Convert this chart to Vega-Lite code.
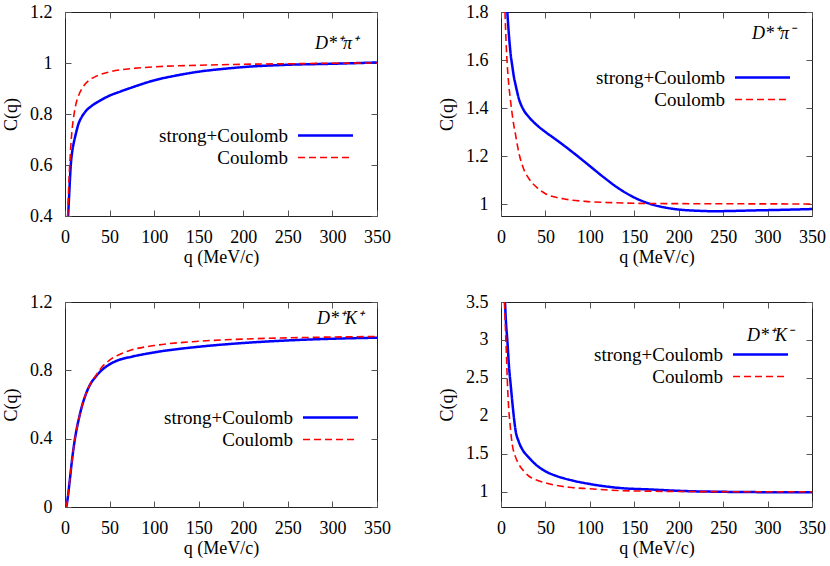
{
  "$schema": "https://vega.github.io/schema/vega-lite/v6.json",
  "background": "white",
  "padding": {"left": 2, "top": 2, "right": 5, "bottom": 2},
  "config": {
    "font": "Liberation Serif",
    "view": {"stroke": "#222", "strokeWidth": 1},
    "axis": {"grid": false, "domain": false, "tickSize": -6, "tickColor": "#555", "tickWidth": 1, "labelFontSize": 18, "titleFontSize": 18, "labelColor": "black", "titleColor": "black", "titleFontWeight": "normal", "labelFlush": false, "labelOverlap": false, "labelFont": "Liberation Serif", "titleFont": "Liberation Serif"},
    "axisX": {"labelPadding": 18, "titlePadding": 2},
    "axisY": {"labelPadding": 19, "titlePadding": 9},
    "legend": {"symbolType": "M-5,0H5", "symbolSize": 121, "symbolOffset": 22, "labelAlign": "right", "labelOffset": -47, "labelFontSize": 19, "labelFont": "Liberation Serif", "labelColor": "black", "titleFontSize": 18, "titleFont": "Liberation Serif", "titleFontStyle": "italic", "titleFontWeight": "normal", "titleColor": "black", "titleAnchor": "end", "rowPadding": 2, "padding": 0, "labelLimit": 300}
  },
  "data": {"values": [
    {"p":"a","s":"strong+Coulomb","q":3.5,"C":0.40},{"p":"a","s":"strong+Coulomb","q":4.5,"C":0.47},{"p":"a","s":"strong+Coulomb","q":5.5,"C":0.54},{"p":"a","s":"strong+Coulomb","q":6.5,"C":0.60},{"p":"a","s":"strong+Coulomb","q":8,"C":0.65},{"p":"a","s":"strong+Coulomb","q":10,"C":0.69},{"p":"a","s":"strong+Coulomb","q":12,"C":0.72},{"p":"a","s":"strong+Coulomb","q":15,"C":0.76},{"p":"a","s":"strong+Coulomb","q":19,"C":0.79},{"p":"a","s":"strong+Coulomb","q":23,"C":0.81},{"p":"a","s":"strong+Coulomb","q":30,"C":0.832},{"p":"a","s":"strong+Coulomb","q":38,"C":0.85},{"p":"a","s":"strong+Coulomb","q":50,"C":0.872},{"p":"a","s":"strong+Coulomb","q":62,"C":0.888},{"p":"a","s":"strong+Coulomb","q":75,"C":0.904},{"p":"a","s":"strong+Coulomb","q":100,"C":0.932},{"p":"a","s":"strong+Coulomb","q":125,"C":0.951},{"p":"a","s":"strong+Coulomb","q":150,"C":0.966},{"p":"a","s":"strong+Coulomb","q":175,"C":0.976},{"p":"a","s":"strong+Coulomb","q":200,"C":0.984},{"p":"a","s":"strong+Coulomb","q":250,"C":0.993},{"p":"a","s":"strong+Coulomb","q":300,"C":0.997},{"p":"a","s":"strong+Coulomb","q":350,"C":1.002},
    {"p":"a","s":"Coulomb","q":3,"C":0.40},{"p":"a","s":"Coulomb","q":4,"C":0.50},{"p":"a","s":"Coulomb","q":5,"C":0.58},{"p":"a","s":"Coulomb","q":6,"C":0.645},{"p":"a","s":"Coulomb","q":7,"C":0.70},{"p":"a","s":"Coulomb","q":8,"C":0.74},{"p":"a","s":"Coulomb","q":10,"C":0.795},{"p":"a","s":"Coulomb","q":12,"C":0.835},{"p":"a","s":"Coulomb","q":15,"C":0.87},{"p":"a","s":"Coulomb","q":20,"C":0.905},{"p":"a","s":"Coulomb","q":27,"C":0.932},{"p":"a","s":"Coulomb","q":35,"C":0.948},{"p":"a","s":"Coulomb","q":50,"C":0.965},{"p":"a","s":"Coulomb","q":75,"C":0.978},{"p":"a","s":"Coulomb","q":100,"C":0.985},{"p":"a","s":"Coulomb","q":150,"C":0.991},{"p":"a","s":"Coulomb","q":200,"C":0.995},{"p":"a","s":"Coulomb","q":250,"C":0.997},{"p":"a","s":"Coulomb","q":300,"C":0.999},{"p":"a","s":"Coulomb","q":350,"C":1.0},
    {"p":"b","s":"strong+Coulomb","q":7.1,"C":1.8},{"p":"b","s":"strong+Coulomb","q":9,"C":1.70},{"p":"b","s":"strong+Coulomb","q":11,"C":1.62},{"p":"b","s":"strong+Coulomb","q":12.7,"C":1.575},{"p":"b","s":"strong+Coulomb","q":14.5,"C":1.53},{"p":"b","s":"strong+Coulomb","q":16.5,"C":1.495},{"p":"b","s":"strong+Coulomb","q":20,"C":1.44},{"p":"b","s":"strong+Coulomb","q":25,"C":1.395},{"p":"b","s":"strong+Coulomb","q":31.5,"C":1.362},{"p":"b","s":"strong+Coulomb","q":40,"C":1.33},{"p":"b","s":"strong+Coulomb","q":50,"C":1.30},{"p":"b","s":"strong+Coulomb","q":62,"C":1.268},{"p":"b","s":"strong+Coulomb","q":76,"C":1.229},{"p":"b","s":"strong+Coulomb","q":88,"C":1.194},{"p":"b","s":"strong+Coulomb","q":100,"C":1.158},{"p":"b","s":"strong+Coulomb","q":115,"C":1.113},{"p":"b","s":"strong+Coulomb","q":132,"C":1.066},{"p":"b","s":"strong+Coulomb","q":150,"C":1.027},{"p":"b","s":"strong+Coulomb","q":170,"C":0.998},{"p":"b","s":"strong+Coulomb","q":185,"C":0.985},{"p":"b","s":"strong+Coulomb","q":200,"C":0.977},{"p":"b","s":"strong+Coulomb","q":220,"C":0.972},{"p":"b","s":"strong+Coulomb","q":240,"C":0.970},{"p":"b","s":"strong+Coulomb","q":260,"C":0.971},{"p":"b","s":"strong+Coulomb","q":282,"C":0.973},{"p":"b","s":"strong+Coulomb","q":320,"C":0.976},{"p":"b","s":"strong+Coulomb","q":350,"C":0.979},
    {"p":"b","s":"Coulomb","q":4.5,"C":1.8},{"p":"b","s":"Coulomb","q":6,"C":1.65},{"p":"b","s":"Coulomb","q":8,"C":1.53},{"p":"b","s":"Coulomb","q":10.9,"C":1.425},{"p":"b","s":"Coulomb","q":13.5,"C":1.35},{"p":"b","s":"Coulomb","q":16.5,"C":1.286},{"p":"b","s":"Coulomb","q":20,"C":1.215},{"p":"b","s":"Coulomb","q":24,"C":1.161},{"p":"b","s":"Coulomb","q":31.5,"C":1.105},{"p":"b","s":"Coulomb","q":40,"C":1.07},{"p":"b","s":"Coulomb","q":50,"C":1.043},{"p":"b","s":"Coulomb","q":70,"C":1.022},{"p":"b","s":"Coulomb","q":95,"C":1.011},{"p":"b","s":"Coulomb","q":130,"C":1.005},{"p":"b","s":"Coulomb","q":170,"C":1.002},{"p":"b","s":"Coulomb","q":250,"C":1.001},{"p":"b","s":"Coulomb","q":350,"C":1.0},
    {"p":"c","s":"strong+Coulomb","q":1.5,"C":0},{"p":"c","s":"strong+Coulomb","q":3,"C":0.05},{"p":"c","s":"strong+Coulomb","q":5,"C":0.14},{"p":"c","s":"strong+Coulomb","q":8,"C":0.28},{"p":"c","s":"strong+Coulomb","q":10,"C":0.36},{"p":"c","s":"strong+Coulomb","q":12.5,"C":0.44},{"p":"c","s":"strong+Coulomb","q":15.7,"C":0.52},{"p":"c","s":"strong+Coulomb","q":19,"C":0.59},{"p":"c","s":"strong+Coulomb","q":23,"C":0.655},{"p":"c","s":"strong+Coulomb","q":28,"C":0.715},{"p":"c","s":"strong+Coulomb","q":34,"C":0.76},{"p":"c","s":"strong+Coulomb","q":40,"C":0.795},{"p":"c","s":"strong+Coulomb","q":50,"C":0.835},{"p":"c","s":"strong+Coulomb","q":60,"C":0.86},{"p":"c","s":"strong+Coulomb","q":75,"C":0.88},{"p":"c","s":"strong+Coulomb","q":100,"C":0.905},{"p":"c","s":"strong+Coulomb","q":150,"C":0.938},{"p":"c","s":"strong+Coulomb","q":200,"C":0.96},{"p":"c","s":"strong+Coulomb","q":250,"C":0.975},{"p":"c","s":"strong+Coulomb","q":300,"C":0.985},{"p":"c","s":"strong+Coulomb","q":350,"C":0.991},
    {"p":"c","s":"Coulomb","q":1.5,"C":0},{"p":"c","s":"Coulomb","q":3,"C":0.05},{"p":"c","s":"Coulomb","q":5,"C":0.14},{"p":"c","s":"Coulomb","q":8,"C":0.28},{"p":"c","s":"Coulomb","q":10,"C":0.36},{"p":"c","s":"Coulomb","q":12.5,"C":0.44},{"p":"c","s":"Coulomb","q":15.7,"C":0.52},{"p":"c","s":"Coulomb","q":19,"C":0.59},{"p":"c","s":"Coulomb","q":23,"C":0.655},{"p":"c","s":"Coulomb","q":28,"C":0.717},{"p":"c","s":"Coulomb","q":34,"C":0.765},{"p":"c","s":"Coulomb","q":40,"C":0.81},{"p":"c","s":"Coulomb","q":50,"C":0.86},{"p":"c","s":"Coulomb","q":60,"C":0.89},{"p":"c","s":"Coulomb","q":75,"C":0.92},{"p":"c","s":"Coulomb","q":100,"C":0.945},{"p":"c","s":"Coulomb","q":150,"C":0.97},{"p":"c","s":"Coulomb","q":200,"C":0.983},{"p":"c","s":"Coulomb","q":250,"C":0.99},{"p":"c","s":"Coulomb","q":300,"C":0.995},{"p":"c","s":"Coulomb","q":350,"C":0.998},
    {"p":"d","s":"strong+Coulomb","q":4.5,"C":3.5},{"p":"d","s":"strong+Coulomb","q":5.5,"C":3.25},{"p":"d","s":"strong+Coulomb","q":7.1,"C":3.0},{"p":"d","s":"strong+Coulomb","q":9,"C":2.65},{"p":"d","s":"strong+Coulomb","q":10.9,"C":2.41},{"p":"d","s":"strong+Coulomb","q":13,"C":2.15},{"p":"d","s":"strong+Coulomb","q":16.5,"C":1.80},{"p":"d","s":"strong+Coulomb","q":20,"C":1.66},{"p":"d","s":"strong+Coulomb","q":25,"C":1.54},{"p":"d","s":"strong+Coulomb","q":31.5,"C":1.45},{"p":"d","s":"strong+Coulomb","q":40,"C":1.35},{"p":"d","s":"strong+Coulomb","q":50,"C":1.27},{"p":"d","s":"strong+Coulomb","q":62,"C":1.21},{"p":"d","s":"strong+Coulomb","q":76.5,"C":1.16},{"p":"d","s":"strong+Coulomb","q":99,"C":1.105},{"p":"d","s":"strong+Coulomb","q":132,"C":1.052},{"p":"d","s":"strong+Coulomb","q":170,"C":1.03},{"p":"d","s":"strong+Coulomb","q":207,"C":1.01},{"p":"d","s":"strong+Coulomb","q":250,"C":1.0},{"p":"d","s":"strong+Coulomb","q":300,"C":0.995},{"p":"d","s":"strong+Coulomb","q":350,"C":0.993},
    {"p":"d","s":"Coulomb","q":4,"C":3.5},{"p":"d","s":"Coulomb","q":5,"C":3.15},{"p":"d","s":"Coulomb","q":6,"C":2.84},{"p":"d","s":"Coulomb","q":7,"C":2.5},{"p":"d","s":"Coulomb","q":8.2,"C":2.19},{"p":"d","s":"Coulomb","q":10.5,"C":1.85},{"p":"d","s":"Coulomb","q":12.7,"C":1.62},{"p":"d","s":"Coulomb","q":16,"C":1.47},{"p":"d","s":"Coulomb","q":20.2,"C":1.36},{"p":"d","s":"Coulomb","q":25,"C":1.28},{"p":"d","s":"Coulomb","q":31.5,"C":1.205},{"p":"d","s":"Coulomb","q":40,"C":1.155},{"p":"d","s":"Coulomb","q":50.3,"C":1.118},{"p":"d","s":"Coulomb","q":62,"C":1.085},{"p":"d","s":"Coulomb","q":76.5,"C":1.06},{"p":"d","s":"Coulomb","q":99,"C":1.04},{"p":"d","s":"Coulomb","q":132,"C":1.017},{"p":"d","s":"Coulomb","q":170,"C":1.008},{"p":"d","s":"Coulomb","q":250,"C":1.002},{"p":"d","s":"Coulomb","q":350,"C":1.0}
  ]},
  "columns": 2,
  "spacing": {"row": 86, "column": 124},
  "bounds": "flush",
  "resolve": {"scale": {"color": "independent", "strokeDash": "independent", "strokeWidth": "independent"}},
  "concat": [
    {
      "width": 312, "height": 204,
      "transform": [{"filter": "datum.p == 'a'"}],
      "layer": [
        {"mark": {"type": "line", "clip": true, "interpolate": "monotone"},
         "encoding": {
           "x": {"field": "q", "type": "quantitative", "scale": {"domain": [0, 350], "nice": false, "zero": false}, "axis": {"values": [0,50,100,150,200,250,300,350], "format": "d", "title": "q (MeV/c)"}},
           "y": {"field": "C", "type": "quantitative", "scale": {"domain": [0.4, 1.2], "nice": false, "zero": false}, "axis": {"values": [0.4,0.6,0.8,1,1.2], "format": "~g", "title": "C(q)"}},
           "color": {"field": "s", "type": "nominal", "scale": {"domain": ["strong+Coulomb","Coulomb"], "range": ["#0000ff","#ff0000"]}, "legend": {"title": "D*⁺π⁺", "orient": "none", "legendX": 229, "legendY": 23, "titlePadding": 73}},
           "strokeDash": {"field": "s", "type": "nominal", "scale": {"domain": ["strong+Coulomb","Coulomb"], "range": [[1,0],[7,4]]}, "legend": {"title": "D*⁺π⁺", "orient": "none", "legendX": 229, "legendY": 23, "titlePadding": 73}},
           "strokeWidth": {"field": "s", "type": "nominal", "scale": {"domain": ["strong+Coulomb","Coulomb"], "range": [2.5,1.6]}, "legend": {"title": "D*⁺π⁺", "orient": "none", "legendX": 229, "legendY": 23, "titlePadding": 73}}
         }},
        {"mark": {"type": "point", "opacity": 0},
         "encoding": {
           "x": {"field": "q", "type": "quantitative", "scale": {"domain": [0, 350], "nice": false, "zero": false}, "axis": {"orient": "top", "values": [0,50,100,150,200,250,300,350], "labels": false, "title": null}},
           "y": {"field": "C", "type": "quantitative", "scale": {"domain": [0.4, 1.2], "nice": false, "zero": false}, "axis": {"orient": "right", "values": [0.4,0.6,0.8,1,1.2], "labels": false, "title": null}}
         }}
      ],
      "resolve": {"axis": {"x": "independent", "y": "independent"}}
    },
    {
      "width": 311, "height": 204,
      "transform": [{"filter": "datum.p == 'b'"}],
      "layer": [
        {"mark": {"type": "line", "clip": true, "interpolate": "monotone"},
         "encoding": {
           "x": {"field": "q", "type": "quantitative", "scale": {"domain": [0, 350], "nice": false, "zero": false}, "axis": {"values": [0,50,100,150,200,250,300,350], "format": "d", "title": "q (MeV/c)"}},
           "y": {"field": "C", "type": "quantitative", "scale": {"domain": [0.95, 1.8], "nice": false, "zero": false}, "axis": {"values": [1,1.2,1.4,1.6,1.8], "format": "~g", "title": "C(q)"}},
           "color": {"field": "s", "type": "nominal", "scale": {"domain": ["strong+Coulomb","Coulomb"], "range": ["#0000ff","#ff0000"]}, "legend": {"title": "D*⁺π⁻", "orient": "none", "legendX": 230, "legendY": 13, "titlePadding": 25}},
           "strokeDash": {"field": "s", "type": "nominal", "scale": {"domain": ["strong+Coulomb","Coulomb"], "range": [[1,0],[7,4]]}, "legend": {"title": "D*⁺π⁻", "orient": "none", "legendX": 230, "legendY": 13, "titlePadding": 25}},
           "strokeWidth": {"field": "s", "type": "nominal", "scale": {"domain": ["strong+Coulomb","Coulomb"], "range": [2.5,1.6]}, "legend": {"title": "D*⁺π⁻", "orient": "none", "legendX": 230, "legendY": 13, "titlePadding": 25}}
         }},
        {"mark": {"type": "point", "opacity": 0},
         "encoding": {
           "x": {"field": "q", "type": "quantitative", "scale": {"domain": [0, 350], "nice": false, "zero": false}, "axis": {"orient": "top", "values": [0,50,100,150,200,250,300,350], "labels": false, "title": null}},
           "y": {"field": "C", "type": "quantitative", "scale": {"domain": [0.95, 1.8], "nice": false, "zero": false}, "axis": {"orient": "right", "values": [1,1.2,1.4,1.6,1.8], "labels": false, "title": null}}
         }}
      ],
      "resolve": {"axis": {"x": "independent", "y": "independent"}}
    },
    {
      "width": 312, "height": 205,
      "transform": [{"filter": "datum.p == 'c'"}],
      "layer": [
        {"mark": {"type": "line", "clip": true, "interpolate": "monotone"},
         "encoding": {
           "x": {"field": "q", "type": "quantitative", "scale": {"domain": [0, 350], "nice": false, "zero": false}, "axis": {"values": [0,50,100,150,200,250,300,350], "format": "d", "title": "q (MeV/c)"}},
           "y": {"field": "C", "type": "quantitative", "scale": {"domain": [0, 1.2], "nice": false, "zero": false}, "axis": {"values": [0,0.4,0.8,1.2], "format": "~g", "title": "C(q)"}},
           "color": {"field": "s", "type": "nominal", "scale": {"domain": ["strong+Coulomb","Coulomb"], "range": ["#0000ff","#ff0000"]}, "legend": {"title": "D*⁺K⁺", "orient": "none", "legendX": 234, "legendY": 8, "titlePadding": 80}},
           "strokeDash": {"field": "s", "type": "nominal", "scale": {"domain": ["strong+Coulomb","Coulomb"], "range": [[1,0],[7,4]]}, "legend": {"title": "D*⁺K⁺", "orient": "none", "legendX": 234, "legendY": 8, "titlePadding": 80}},
           "strokeWidth": {"field": "s", "type": "nominal", "scale": {"domain": ["strong+Coulomb","Coulomb"], "range": [2.5,1.6]}, "legend": {"title": "D*⁺K⁺", "orient": "none", "legendX": 234, "legendY": 8, "titlePadding": 80}}
         }},
        {"mark": {"type": "point", "opacity": 0},
         "encoding": {
           "x": {"field": "q", "type": "quantitative", "scale": {"domain": [0, 350], "nice": false, "zero": false}, "axis": {"orient": "top", "values": [0,50,100,150,200,250,300,350], "labels": false, "title": null}},
           "y": {"field": "C", "type": "quantitative", "scale": {"domain": [0, 1.2], "nice": false, "zero": false}, "axis": {"orient": "right", "values": [0,0.4,0.8,1.2], "labels": false, "title": null}}
         }}
      ],
      "resolve": {"axis": {"x": "independent", "y": "independent"}}
    },
    {
      "width": 311, "height": 205,
      "transform": [{"filter": "datum.p == 'd'"}],
      "layer": [
        {"mark": {"type": "line", "clip": true, "interpolate": "monotone"},
         "encoding": {
           "x": {"field": "q", "type": "quantitative", "scale": {"domain": [0, 350], "nice": false, "zero": false}, "axis": {"values": [0,50,100,150,200,250,300,350], "format": "d", "title": "q (MeV/c)"}},
           "y": {"field": "C", "type": "quantitative", "scale": {"domain": [0.8, 3.5], "nice": false, "zero": false}, "axis": {"values": [1,1.5,2,2.5,3,3.5], "format": "~g", "title": "C(q)"}},
           "color": {"field": "s", "type": "nominal", "scale": {"domain": ["strong+Coulomb","Coulomb"], "range": ["#0000ff","#ff0000"]}, "legend": {"title": "D*⁺K⁻", "orient": "none", "legendX": 228, "legendY": 25, "titlePadding": 0}},
           "strokeDash": {"field": "s", "type": "nominal", "scale": {"domain": ["strong+Coulomb","Coulomb"], "range": [[1,0],[7,4]]}, "legend": {"title": "D*⁺K⁻", "orient": "none", "legendX": 228, "legendY": 25, "titlePadding": 0}},
           "strokeWidth": {"field": "s", "type": "nominal", "scale": {"domain": ["strong+Coulomb","Coulomb"], "range": [2.5,1.6]}, "legend": {"title": "D*⁺K⁻", "orient": "none", "legendX": 228, "legendY": 25, "titlePadding": 0}}
         }},
        {"mark": {"type": "point", "opacity": 0},
         "encoding": {
           "x": {"field": "q", "type": "quantitative", "scale": {"domain": [0, 350], "nice": false, "zero": false}, "axis": {"orient": "top", "values": [0,50,100,150,200,250,300,350], "labels": false, "title": null}},
           "y": {"field": "C", "type": "quantitative", "scale": {"domain": [0.8, 3.5], "nice": false, "zero": false}, "axis": {"orient": "right", "values": [1,1.5,2,2.5,3,3.5], "labels": false, "title": null}}
         }}
      ],
      "resolve": {"axis": {"x": "independent", "y": "independent"}}
    }
  ]
}
